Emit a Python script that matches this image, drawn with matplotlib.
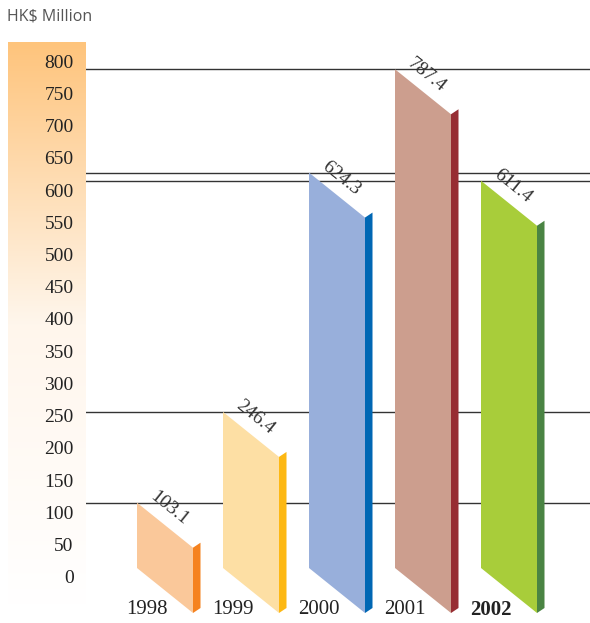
import numpy as np
import matplotlib.pyplot as plt
from matplotlib.patches import Polygon
from matplotlib.colors import LinearSegmentedColormap

# data
years = ['1998', '1999', '2000', '2001', '2002']
values = [103.1, 246.4, 624.3, 787.4, 611.4]
front_colors = ['#FAC89A', '#FDDFA4', '#98AFDB', '#CC9E8E', '#A8CD3A']
side_colors = ['#F5821F', '#FDB813', '#0067B4', '#972D33', '#4A8443']
scale_ticks = list(range(0, 801, 50))

W, H = 590, 623
fig = plt.figure(figsize=(W / 100, H / 100), dpi=100)

# main axes covers the whole figure; limits chosen so 0 sits at px 568, 787.4 at px 69
px_per_unit = 0.6334
px_per_bar = 86.0
x0_px, y0_px = 137.0, 568.0
ax = fig.add_axes([0, 0, 1, 1])
ax.set_xlim(-x0_px / px_per_bar, (W - x0_px) / px_per_bar)
ax.set_ylim(-(H - y0_px) / px_per_unit, y0_px / px_per_unit)
ax.axis('off')

bar_w = 56 / px_per_bar      # front face width
side_w = 7.5 / px_per_bar    # side face width
drop = 45 / px_per_unit      # slant of the top/bottom edges
rise = 5 / px_per_unit       # side face tilt

# reference lines at each bar top, behind the bars
for v in values:
    ax.axhline(v, xmin=86 / W, xmax=1, color='#333333', lw=1.0, zorder=1)

for i, (yr, v) in enumerate(zip(years, values)):
    L = i
    R = L + bar_w
    S = R + side_w
    front = Polygon([(L, v), (R, v - drop), (R, -drop), (L, 0)],
                    closed=True, facecolor=front_colors[i], edgecolor='none', zorder=2)
    side = Polygon([(R, v - drop), (S, v - drop + rise), (S, -drop + rise), (R, -drop)],
                   closed=True, facecolor=side_colors[i], edgecolor='none', zorder=2)
    ax.add_patch(front)
    ax.add_patch(side)

    # value label running along the slanted top
    ax.annotate(f'{v:.1f}', xy=(L, v), xytext=(7, 1), textcoords='offset points',
                rotation=-38.8, rotation_mode='anchor', ha='left', va='bottom',
                fontsize=14, family='Liberation Serif', color='#333333', zorder=3)

    ax.text(L + 10 / px_per_bar, -42 / px_per_unit, yr, ha='center', va='center',
            fontsize=15, family='Liberation Serif', color='#222222',
            fontweight='bold' if yr == '2002' else 'normal')

# gradient scale strip on the left
strip_top, strip_bot = 42, 605
sax = fig.add_axes([8 / W, 1 - strip_bot / H, 78 / W, (strip_bot - strip_top) / H])
lab_px = 32.2 / 50
ylo = -(strip_bot - 579) / lab_px
yhi = 800 + (63 - strip_top) / lab_px
cmap = LinearSegmentedColormap.from_list('strip', ['#FEC47C', '#FFF6EC', '#FFFFFF'])
grad = np.linspace(1, 0, 256).reshape(-1, 1)
sax.imshow(grad, cmap=cmap, aspect='auto', origin='lower', extent=(0, 1, ylo, yhi), zorder=0)
sax.set_xlim(0, 1)
sax.set_ylim(ylo, yhi)
sax.axis('off')
for t in scale_ticks:
    sax.text(0.84, t, str(t), ha='right', va='center', fontsize=14,
             family='Liberation Serif', color='#222222')

fig.text(7 / W, 1 - 17 / H, 'HK$ Million', ha='left', va='center', fontsize=11.5,
         family='Open Sans', color='#555555')

fig.savefig('out.png', dpi=100)
